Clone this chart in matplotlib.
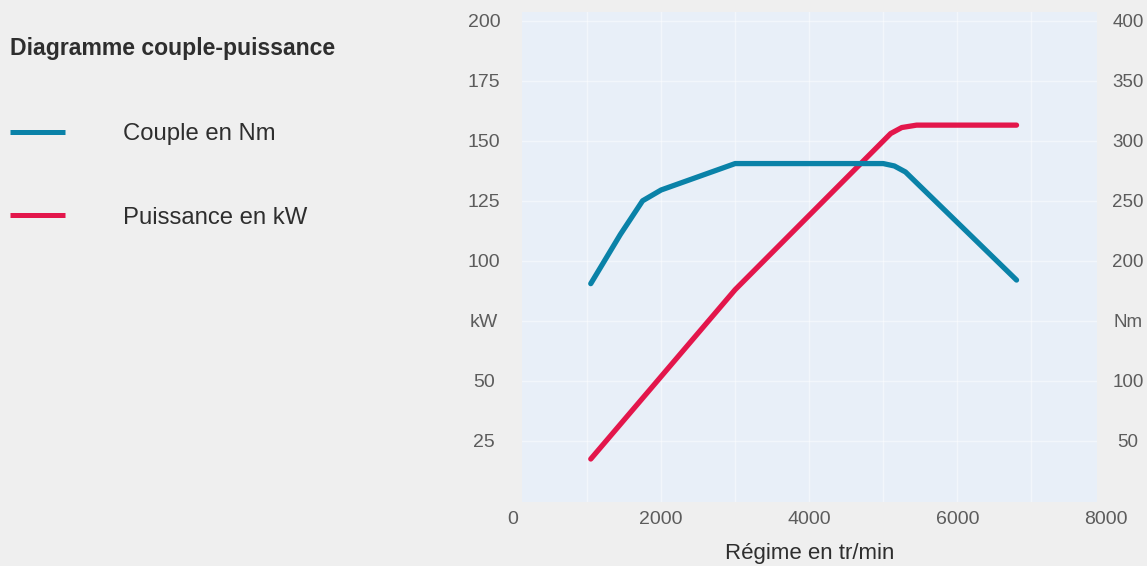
import matplotlib
matplotlib.use("Agg")
import matplotlib.pyplot as plt
from matplotlib.ticker import FixedLocator

# ---- data ----
rpm_torque = [1050, 1450, 1750, 2000, 2500, 3000, 5000, 5150, 5300, 6800]
torque_nm = [181, 222, 250, 259, 270, 281, 281, 279, 274, 184]

rpm_power = [1050, 3000, 5100, 5250, 5450, 6800]
power_kw = [17.5, 88, 153, 155.5, 156.5, 156.5]

kw_ticks = [25, 50, 75, 100, 125, 150, 175, 200]
kw_labels = ["25", "50", "kW", "100", "125", "150", "175", "200"]
nm_ticks = [50, 100, 150, 200, 250, 300, 350, 400]
nm_labels = ["50", "100", "Nm", "200", "250", "300", "350", "400"]
rpm_ticks = [0, 2000, 4000, 6000, 8000]
rpm_labels = ["0", "2000", "4000", "6000", "8000"]
rpm_grid = [1000, 2000, 3000, 4000, 5000, 6000, 7000]

title = "Diagramme couple-puissance"
torque_name = "Couple en Nm"
power_name = "Puissance en kW"
x_title = "Régime en tr/min"

# ---- style ----
BG = "#efefef"
PANEL = "#e8eff8"
BLUE = "#0a82a8"
RED = "#e3164b"
TICK_C = "#5c5c5c"
TEXT_C = "#2e2e2e"
plt.rcParams["font.family"] = ["Liberation Sans", "DejaVu Sans"]

W, H = 1147, 566
fig = plt.figure(figsize=(W / 100, H / 100), dpi=100, facecolor=BG)

# panel in pixels: x 522..1097, y 12..502
L, R, T, B = 522, 1097, 12, 502
ax = fig.add_axes([L / W, 1 - B / H, (R - L) / W, (B - T) / H])
ax.set_facecolor(PANEL)
for s in ax.spines.values():
    s.set_visible(False)

ax.set_xlim(121.5, 7886.6)
ax.set_ylim(-0.4, 203.6)

ax2 = ax.twinx()
ax2.set_ylim(-0.8, 407.2)
for s in ax2.spines.values():
    s.set_visible(False)

# faint grid
ax.xaxis.set_major_locator(FixedLocator(rpm_grid))
ax.set_xticklabels([])
ax.tick_params(axis="x", length=0)
ax.grid(True, axis="x", color="white", lw=1.0, alpha=0.45)
ax.grid(True, axis="y", color="white", lw=1.0, alpha=0.45)
ax.set_axisbelow(True)

# y ticks (left kW, right Nm)
ax.set_yticks(kw_ticks)
ax.set_yticklabels(kw_labels)
ax.tick_params(axis="y", length=0, pad=27.4, labelsize=14, labelcolor=TICK_C)
for lab in ax.get_yticklabels():
    lab.set_horizontalalignment("center")

ax2.set_yticks(nm_ticks)
ax2.set_yticklabels(nm_labels)
ax2.tick_params(axis="y", length=0, pad=22.3, labelsize=13.5, labelcolor=TICK_C)
for lab in ax2.get_yticklabels():
    lab.set_horizontalalignment("center")

# x tick labels (0 and 8000 lie just outside the panel)
xtr = ax.get_xaxis_transform()
for v, t in zip(rpm_ticks, rpm_labels):
    ax.text(v, -18 / (B - T), t, transform=xtr, ha="center", va="center",
            fontsize=14, color=TICK_C, clip_on=False)
ax.text(0.5, -51 / (B - T), x_title, transform=ax.transAxes, ha="center",
        va="center", fontsize=16, color=TEXT_C, clip_on=False)

# curves
l1, = ax2.plot(rpm_torque, torque_nm, color=BLUE, lw=3.8,
               solid_joinstyle="round", solid_capstyle="round",
               label=torque_name)
l2, = ax.plot(rpm_power, power_kw, color=RED, lw=3.8,
              solid_joinstyle="round", solid_capstyle="round",
              label=power_name)
ax2.set_zorder(ax.get_zorder() + 1)
ax2.patch.set_visible(False)

# title and legend
fig.text(10 / W, 1 - 48 / H, title, fontsize=16.6, fontweight="bold",
         color=TEXT_C, ha="left", va="center")
leg = fig.legend([l1, l2], [torque_name, power_name],
                 loc="upper left", bbox_to_anchor=(10 / W, 1 - 123 / H),
                 frameon=False, fontsize=17.2, handlelength=2.3,
                 handletextpad=2.45, labelspacing=2.58, borderpad=0,
                 borderaxespad=0)
for t in leg.get_texts():
    t.set_color(TEXT_C)
for h in leg.legend_handles:
    h.set_linewidth(3.6)
    h.set_solid_capstyle("butt")

fig.savefig("out.png", dpi=100, facecolor=BG)
